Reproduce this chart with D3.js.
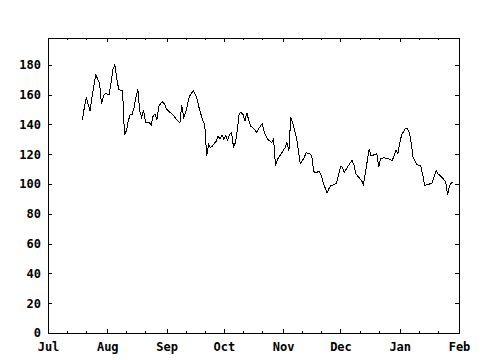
<!DOCTYPE html>
<html>
<head>
<meta charset="utf-8">
<script src="https://cdn.jsdelivr.net/npm/d3@7"></script>
<style>
  body { margin: 0; background: #fff; }
  svg { display: block; }
  text { font-family: "DejaVu Sans Mono", monospace; font-weight: bold; }
</style>
</head>
<body>
<div id="chart"></div>
<script>
// daily closes
const dates = [
    "2001-07-19", "2001-07-20", "2001-07-21", "2001-07-23", "2001-07-24", "2001-07-25", "2001-07-26", "2001-07-27",
    "2001-07-28", "2001-07-29", "2001-07-30", "2001-07-31",
    "2001-08-01", "2001-08-02", "2001-08-03", "2001-08-04", "2001-08-05", "2001-08-06", "2001-08-07", "2001-08-08",
    "2001-08-09", "2001-08-10", "2001-08-11", "2001-08-12", "2001-08-13", "2001-08-14", "2001-08-15", "2001-08-16",
    "2001-08-17", "2001-08-18", "2001-08-19", "2001-08-20", "2001-08-21", "2001-08-23", "2001-08-24", "2001-08-25",
    "2001-08-26", "2001-08-27", "2001-08-28", "2001-08-29", "2001-08-30", "2001-08-31",
    "2001-09-01", "2001-09-03", "2001-09-05", "2001-09-06", "2001-09-08", "2001-09-09", "2001-09-10", "2001-09-11",
    "2001-09-12", "2001-09-13", "2001-09-14", "2001-09-15", "2001-09-16", "2001-09-17", "2001-09-18", "2001-09-19",
    "2001-09-20", "2001-09-21", "2001-09-22", "2001-09-23", "2001-09-24", "2001-09-25", "2001-09-27", "2001-09-28",
    "2001-09-29", "2001-09-30",
    "2001-10-01", "2001-10-02", "2001-10-03", "2001-10-04", "2001-10-05", "2001-10-06", "2001-10-07", "2001-10-08",
    "2001-10-09", "2001-10-10", "2001-10-11", "2001-10-12", "2001-10-13", "2001-10-14", "2001-10-15", "2001-10-17",
    "2001-10-18", "2001-10-19", "2001-10-21", "2001-10-22", "2001-10-23", "2001-10-24", "2001-10-26", "2001-10-27",
    "2001-10-28", "2001-10-29", "2001-10-31",
    "2001-11-02", "2001-11-03", "2001-11-04", "2001-11-05", "2001-11-06", "2001-11-08", "2001-11-09", "2001-11-10",
    "2001-11-12", "2001-11-13", "2001-11-15", "2001-11-16", "2001-11-17", "2001-11-18", "2001-11-20", "2001-11-21",
    "2001-11-22", "2001-11-23", "2001-11-24", "2001-11-25", "2001-11-26", "2001-11-28", "2001-11-29", "2001-11-30",
    "2001-12-01", "2001-12-02", "2001-12-03", "2001-12-05", "2001-12-07", "2001-12-08", "2001-12-09", "2001-12-10",
    "2001-12-12", "2001-12-13", "2001-12-14", "2001-12-15", "2001-12-16", "2001-12-17", "2001-12-19", "2001-12-20",
    "2001-12-21", "2001-12-22", "2001-12-24", "2001-12-27", "2001-12-28", "2001-12-29", "2001-12-30", "2001-12-31",
    "2002-01-01", "2002-01-02", "2002-01-04", "2002-01-05", "2002-01-06", "2002-01-07", "2002-01-08", "2002-01-09",
    "2002-01-10", "2002-01-12", "2002-01-13", "2002-01-14", "2002-01-16", "2002-01-18", "2002-01-20", "2002-01-21",
    "2002-01-23", "2002-01-25", "2002-01-26", "2002-01-27", "2002-01-28", "2002-01-29"
];

const values = [
    142.8, 151.3, 158.0, 149.0, 158.0, 165.9, 173.3, 170.4,
    167.5, 153.5, 159.1, 160.7,
    160.3, 160.3, 168.1, 177.1, 180.0, 170.4, 163.6, 163.0,
    162.5, 133.3, 135.6, 142.3, 146.8, 146.8, 151.3, 158.0,
    163.6, 149.0, 144.6, 149.5, 141.6, 141.2, 139.6, 145.7,
    146.8, 143.4, 152.4, 154.2, 155.1, 153.5,
    150.2, 147.9, 145.7, 143.4, 141.2, 152.9, 144.6, 147.9,
    153.5, 158.7, 160.9, 162.5, 160.3, 156.9, 151.3, 146.8,
    142.3, 140.1, 118.7, 126.6, 124.4, 125.5, 128.8, 132.2,
    130.0, 132.9,
    130.0, 132.2, 129.3, 133.3, 134.5, 125.1, 127.7, 135.6,
    147.5, 147.9, 146.8, 142.3, 147.9, 142.8, 138.9, 136.7,
    134.5, 136.7, 140.5, 135.6, 132.2, 130.0, 127.7, 130.6,
    112.0, 116.5, 120.3,
    124.4, 127.7, 122.1, 145.0, 141.2, 131.1, 122.1, 113.6,
    117.6, 121.0, 120.3, 118.7, 108.6, 107.5, 108.6, 105.3,
    100.8, 97.4, 94.1, 97.0, 99.0, 99.7, 100.8, 106.4,
    111.6, 111.3, 107.9, 112.0, 115.8, 113.1, 107.1, 105.3,
    102.4, 99.7, 107.5, 115.4, 123.7, 118.7, 119.9, 120.3,
    111.3, 117.2, 117.6, 116.5, 115.8, 118.7, 122.6, 120.3,
    127.7, 132.9, 137.4, 137.4, 134.5, 127.7, 117.6, 115.4,
    113.1, 112.0, 106.4, 99.0, 99.7, 100.8, 109.1, 106.9,
    104.6, 101.5, 92.9, 98.5, 100.8, 100.8
];

const yTicks = [0, 20, 40, 60, 80, 100, 120, 140, 160, 180];
const xStart = "2001-07-01";
const xEnd = "2002-02-01";

const parseDate = d3.timeParse("%Y-%m-%d");
const data = dates.map((d, i) => ({ date: parseDate(d), value: values[i] }));

const svgWidth = 480, svgHeight = 360;
const plotLeft = 48, plotRight = 459, plotTop = 38, plotBottom = 333;

const svg = d3.select("#chart").append("svg")
    .attr("width", svgWidth)
    .attr("height", svgHeight)
    .attr("shape-rendering", "crispEdges");

svg.append("rect")
    .attr("width", svgWidth)
    .attr("height", svgHeight)
    .attr("fill", "white");

const x = d3.scaleTime()
    .domain([parseDate(xStart), parseDate(xEnd)])
    .range([plotLeft, plotRight]);

const y = d3.scaleLinear()
    .domain([0, 198])
    .range([plotBottom, plotTop]);

const months = d3.timeMonth.range(x.domain()[0], d3.timeDay.offset(x.domain()[1], 1));
const minorDays = d3.timeDay.range(x.domain()[0], x.domain()[1])
    .filter(d => d.getDate() === 11 || d.getDate() === 21);

function styleAxis(g) {
    g.select(".domain").remove();
    g.selectAll("line").attr("stroke", "black");
    g.selectAll("text")
        .attr("fill", "black")
        .attr("font-family", "DejaVu Sans Mono, monospace")
        .attr("font-weight", "bold")
        .attr("font-size", 12);
}

// bottom axis with month names
svg.append("g")
    .attr("transform", `translate(0,${plotBottom})`)
    .call(d3.axisBottom(x).tickValues(months).tickFormat(d3.timeFormat("%b"))
        .tickSizeInner(-4).tickSizeOuter(0).tickPadding(9))
    .call(styleAxis);

svg.append("g")
    .attr("transform", `translate(0,${plotBottom})`)
    .call(d3.axisBottom(x).tickValues(minorDays).tickFormat("")
        .tickSizeInner(-2).tickSizeOuter(0))
    .call(styleAxis);

// mirrored ticks on top
svg.append("g")
    .attr("transform", `translate(0,${plotTop})`)
    .call(d3.axisTop(x).tickValues(months).tickFormat("")
        .tickSizeInner(-4).tickSizeOuter(0))
    .call(styleAxis);

svg.append("g")
    .attr("transform", `translate(0,${plotTop})`)
    .call(d3.axisTop(x).tickValues(minorDays).tickFormat("")
        .tickSizeInner(-2).tickSizeOuter(0))
    .call(styleAxis);

// left axis
svg.append("g")
    .attr("transform", `translate(${plotLeft},0)`)
    .call(d3.axisLeft(y).tickValues(yTicks).tickFormat(d3.format("d"))
        .tickSizeInner(-4).tickSizeOuter(0).tickPadding(7))
    .call(styleAxis);

// mirrored on the right
svg.append("g")
    .attr("transform", `translate(${plotRight},0)`)
    .call(d3.axisRight(y).tickValues(yTicks).tickFormat("")
        .tickSizeInner(-4).tickSizeOuter(0))
    .call(styleAxis);

// frame
svg.append("rect")
    .attr("x", plotLeft)
    .attr("y", plotTop)
    .attr("width", plotRight - plotLeft)
    .attr("height", plotBottom - plotTop)
    .attr("fill", "none")
    .attr("stroke", "black");

const line = d3.line()
    .x(d => x(d.date))
    .y(d => y(d.value));

svg.append("path")
    .datum(data)
    .attr("d", line)
    .attr("fill", "none")
    .attr("stroke", "black")
    .attr("stroke-width", 1);
</script>
</body>
</html>
